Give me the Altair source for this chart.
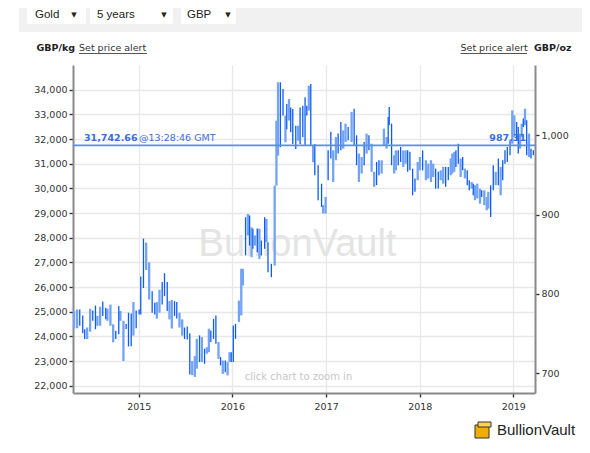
import altair as alt
import pandas as pd

# ---------------- data ----------------
# bar time (fractional year), high / low (GBP per kg), kind: D = dark bar, L = light bar
year_a = [2014.309, 2014.341, 2014.369, 2014.401, 2014.422, 2014.448, 2014.480, 2014.508, 2014.537, 2014.558,
          2014.587, 2014.615, 2014.647, 2014.665, 2014.697, 2014.726, 2014.754, 2014.786, 2014.804, 2014.836,
          2014.865, 2014.890, 2014.919, 2014.943, 2014.972, 2015.004, 2015.021, 2015.050, 2015.079, 2015.111,
          2015.143, 2015.171, 2015.193, 2015.221, 2015.250, 2015.275, 2015.304, 2015.328, 2015.353, 2015.382,
          2015.406, 2015.435, 2015.464, 2015.489, 2015.518, 2015.545, 2015.571, 2015.599]
high_a = [25030, 25090, 25090, 24850, 24290, 24360, 25120, 25050, 25250, 24830,
          25200, 25410, 25160, 25120, 25290, 24490, 24230, 25230, 25030, 24630,
          24500, 24960, 24930, 25390, 25050, 25090, 26430, 27960, 27800, 27000,
          25830, 25360, 25390, 25890, 26200, 26560, 26200, 25430, 25470, 25430,
          25390, 24960, 24690, 24360, 24400, 24130, 23000, 23200]
low_a = [24320, 24330, 24430, 24130, 23890, 23890, 24190, 24630, 24290, 24430,
         24430, 24830, 24690, 24630, 24430, 23760, 23890, 24090, 24630, 23000,
         24300, 23590, 23600, 24030, 24330, 24890, 24890, 25960, 26690, 25490,
         24960, 24890, 24720, 24960, 25290, 25630, 25030, 24690, 24320, 24830,
         24720, 24360, 24030, 23890, 23870, 22450, 22430, 22360]
kind_a = "LLDDDLLDDLLDDLLLDDLLDDDLDDDDLLDDLLDDDLLDDLLDDDLL"

year_b = [2015.620, 2015.649, 2015.674, 2015.703, 2015.727, 2015.749, 2015.770, 2015.799, 2015.824, 2015.852,
          2015.874, 2015.898, 2015.924, 2015.949, 2015.970, 2015.988, 2016.010, 2016.034, 2016.070, 2016.095,
          2016.112, 2016.141, 2016.166, 2016.184, 2016.205, 2016.219, 2016.241, 2016.266, 2016.288, 2016.309,
          2016.344, 2016.363, 2016.380, 2016.416, 2016.451, 2016.470, 2016.487, 2016.512, 2016.540, 2016.566,
          2016.580, 2016.604, 2016.622, 2016.644, 2016.676, 2016.701, 2016.722, 2016.751, 2016.775, 2016.794,
          2016.815, 2016.836, 2016.861]
high_b = [23900, 24040, 23970, 23500, 23560, 24310, 24240, 24710, 24850, 23770,
          23160, 23020, 23020, 22960, 23360, 23360, 24440, 24510, 25450, 26740,
          26740, 28830, 28960, 28900, 28420, 28360, 28090, 28360, 28360, 27890,
          28830, 28760, 27820, 26940, 30110, 32740, 34300, 34300, 34030, 32950,
          33420, 33620, 33280, 33220, 32540, 32540, 33280, 33350, 33690, 33350,
          34160, 34230, 31730]
low_b = [22690, 22960, 22960, 22890, 23300, 23360, 23770, 23900, 23700, 23090,
         22820, 22480, 22550, 22420, 22960, 22960, 22960, 23900, 24580, 24850,
         26060, 27280, 28090, 27680, 27210, 27550, 27680, 27410, 27140, 27280,
         27550, 27820, 26600, 26400, 26870, 30110, 31330, 31670, 32950, 31870,
         32400, 32750, 32270, 31800, 31600, 31930, 31800, 32070, 31730, 32950,
         33150, 31730, 31060]
kind_b = "LDLDLLDDDLDLDLLDDDLLLDLDLDLDLDDLDDLLLDDLDLDDDLDDDDLDL"

year_c = [2016.879, 2016.914, 2016.951, 2016.968, 2016.994, 2017.021, 2017.050, 2017.075, 2017.104, 2017.128,
          2017.157, 2017.182, 2017.207, 2017.235, 2017.272, 2017.299, 2017.325, 2017.350, 2017.379, 2017.406,
          2017.432, 2017.457, 2017.486, 2017.513, 2017.539, 2017.564, 2017.593, 2017.617, 2017.646, 2017.663,
          2017.674, 2017.699, 2017.727, 2017.745, 2017.770, 2017.796, 2017.824, 2017.849, 2017.871, 2017.895,
          2017.924, 2017.949, 2017.978, 2018.002, 2018.031]
high_c = [31800, 30940, 30190, 29320, 29650, 31540, 32290, 31540, 32080, 32220,
          32690, 32350, 32620, 32490, 33100, 33230, 32150, 31410, 31270, 31880,
          32220, 32150, 31810, 30670, 31070, 31140, 31140, 32420, 32080, 32890,
          33300, 32620, 31340, 31540, 31540, 31680, 31540, 31540, 31540, 31480,
          30800, 30400, 31070, 31270, 31540]
low_c = [30530, 29520, 29250, 28980, 28980, 30330, 31210, 30260, 31140, 31410,
         31540, 31610, 31880, 31950, 31880, 31750, 30940, 30260, 30600, 30940,
         31410, 31540, 30670, 30060, 30130, 30530, 30600, 31750, 31610, 31810,
         32560, 30940, 30600, 30730, 30940, 31070, 30870, 31000, 30670, 30730,
         29720, 29860, 30330, 30730, 30730]
kind_c = "DDDLLDDLLDDLLDLDDLLDLDLLDDLLLDDDLLDDLLDDDDLLD"

year_d = [2018.066, 2018.091, 2018.120, 2018.144, 2018.170, 2018.198, 2018.224, 2018.251, 2018.277, 2018.305,
          2018.331, 2018.348, 2018.369, 2018.387, 2018.412, 2018.437, 2018.459, 2018.483, 2018.508, 2018.529,
          2018.555, 2018.572, 2018.590, 2018.615, 2018.644, 2018.662, 2018.690, 2018.716, 2018.733, 2018.758,
          2018.786, 2018.812, 2018.840, 2018.865, 2018.887, 2018.911, 2018.936, 2018.965, 2018.989, 2019.011,
          2019.036, 2019.053, 2019.072, 2019.090, 2019.107, 2019.125, 2019.143, 2019.168, 2019.189, 2019.214]
high_d = [31140, 31000, 31140, 31000, 30800, 30670, 30730, 30870, 30870, 30870,
          31210, 31410, 31480, 31540, 31810, 31210, 31270, 30800, 30730, 30330,
          30260, 30190, 30130, 30190, 29990, 29920, 29920, 29650, 29860, 30130,
          30940, 30670, 31210, 30870, 31140, 31540, 31680, 31950, 33160, 32960,
          32690, 32490, 32220, 32620, 32830, 33230, 32760, 32220, 31610, 31540]
low_d = [30330, 30400, 30260, 30460, 29990, 29990, 30330, 30190, 30060, 30330,
         30530, 30600, 30670, 30870, 31000, 30460, 30730, 30400, 30130, 29920,
         29990, 29720, 29520, 29590, 29380, 29650, 29320, 29110, 29180, 28840,
         29920, 30130, 30130, 29720, 30330, 31000, 31070, 31340, 31810, 32080,
         31950, 31410, 31610, 32080, 32490, 32560, 31340, 31270, 31210, 31340]
kind_d = "LLLLDDLLDDLLLDDLDLDDLDLLLDLLLDDLDLDDDDLLDDLLDLDLDD"

price_kg = 31742.66
price_oz = 987.31
price_time = "@13:28:46 GMT"
OZ_PER_KG = 32.1507466

y_ticks_kg = list(range(22000, 35000, 1000))
y_ticks_oz = [700, 800, 900, 1000]
x_tick_years = [2015, 2016, 2017, 2018, 2019]
y_domain_kg = [21705, 35000]
x_range_years = [2014.297, 2019.232]

menu_items = ["Gold", "5 years", "GBP"]

# ---------------- build tables ----------------
def fy_to_ts(fy):
    y = int(fy)
    start = pd.Timestamp(year=y, month=1, day=1)
    end = pd.Timestamp(year=y + 1, month=1, day=1)
    return start + (end - start) * (fy - y)


def to_dt(ts):
    return alt.DateTime(year=ts.year, month=ts.month, date=ts.day, hours=ts.hour)


years = year_a + year_b + year_c + year_d
highs = high_a + high_b + high_c + high_d
lows = low_a + low_b + low_c + low_d
kinds = list(kind_a + kind_b + kind_c + kind_d)
assert len(years) == len(highs) == len(lows) == len(kinds)

bars_df = pd.DataFrame({
    "date": [fy_to_ts(v) for v in years],
    "high": highs,
    "low": lows,
    "kind": ["rise" if k == "D" else "fall" for k in kinds],
})
bars_df = bars_df.sort_values("kind")  # light bars first, dark bars on top

price_df = pd.DataFrame({"price": [price_kg], "oz": [price_oz],
                         "label": [f"{price_kg:,.2f}"], "time": [price_time],
                         "oz_label": [f"{price_oz:,.2f}"]})

DARK = "#0d5cf2"
LIGHT = "#72a3f5"
PRICE = "#5a8fe8"
PRICE_TXT = "#3a6edb"
FONT = "DejaVu Sans"
SANS = "Liberation Sans"

kg_scale = alt.Scale(domain=y_domain_kg, nice=False, zero=False)
kg_axis = alt.Axis(values=y_ticks_kg, format=",.0f", title=None, grid=True, labelPadding=2)
oz_scale = alt.Scale(domain=[v / OZ_PER_KG for v in y_domain_kg], nice=False, zero=False)
oz_axis = alt.Axis(orient="right", values=y_ticks_oz, format=",.0f", title=None, grid=False, labelPadding=2)
x_scale = alt.Scale(domain=[to_dt(fy_to_ts(v)) for v in x_range_years])
x_axis = alt.Axis(values=[alt.DateTime(year=y, month=1, date=1) for y in x_tick_years],
                  format="%Y", title=None, grid=True, labelPadding=4)

one = pd.DataFrame({"t": [""]})


def label(text, x, y, size=9.5, weight="normal", color="#222", align="left", font=FONT, baseline="middle"):
    return alt.Chart(pd.DataFrame({"t": [text]})).mark_text(
        align=align, baseline=baseline, fontSize=size, fontWeight=weight, color=color, font=font
    ).encode(text="t:N", x=alt.value(x), y=alt.value(y))


def box(x1, x2, y1, y2, color, stroke=None, radius=0):
    kw = dict(color=color, cornerRadius=radius)
    if stroke:
        kw.update(stroke=stroke, strokeWidth=1)
    return alt.Chart(one).mark_rect(**kw).encode(
        x=alt.value(x1), x2=alt.value(x2), y=alt.value(y1), y2=alt.value(y2))


def hline(x1, x2, y, color, width=1):
    return alt.Chart(one).mark_rule(color=color, strokeWidth=width).encode(
        x=alt.value(x1), x2=alt.value(x2), y=alt.value(y))


# ---------------- decoration ----------------
header = [
    box(-54, 520, -60, -33, "#f1f1f1"),
    box(-46, 13, -60, -41, "#ffffff", radius=2),
    box(17, 100, -60, -41, "#ffffff", radius=2),
    box(108, 163, -60, -41, "#ffffff", radius=2),
    label(menu_items[0], -38, -50, size=11.5, font=SANS),
    label(menu_items[1], 24, -50, size=11.5, font=SANS),
    label(menu_items[2], 114, -50, size=11.5, font=SANS),
    label("▼", 1, -50, size=7, align="center"),
    label("▼", 91, -50, size=7, align="center"),
    label("▼", 155, -50, size=7, align="center"),
    label("GBP/kg", -36.5, -17, weight="bold"),
    label("Set price alert", 6, -17, color="#333"),
    hline(6, 74, -11.5, "#555"),
    label("Set price alert", 387.5, -17, color="#333"),
    hline(387.5, 454, -11.5, "#555"),
    label("GBP/oz", 461, -17, weight="bold"),
]

watermark = [
    label("BullionVault", 224.5, 191, size=38, color="#e4e4e4", align="center", font=SANS,
          baseline="alphabetic"),
    label("click chart to zoom in", 225.5, 312, size=10, color="#c6c6c6", align="center"),
]

logo = [
    box(402, 416, 360, 373, "#f2ae00", stroke="#333"),
    box(405, 418, 357, 362, "#ffd24d", stroke="#333"),
    label("BullionVault", 424, 365, size=15, color="#222", font=SANS),
]

# ---------------- data layers ----------------
bars = alt.Chart(bars_df).mark_rule().encode(
    x=alt.X("date:T", scale=x_scale, axis=x_axis),
    y=alt.Y("low:Q", scale=kg_scale, axis=kg_axis),
    y2="high:Q",
    color=alt.Color("kind:N", scale=alt.Scale(domain=["rise", "fall"], range=[DARK, LIGHT]), legend=None),
    strokeWidth=alt.StrokeWidth("kind:N", scale=alt.Scale(domain=["rise", "fall"], range=[1.3, 2.3]),
                                legend=None),
)

price_line = alt.Chart(price_df).mark_rule(color=PRICE, strokeWidth=1.8).encode(
    y=alt.Y("price:Q", scale=kg_scale, axis=kg_axis))

price_val = alt.Chart(price_df).mark_text(
    align="left", baseline="middle", dy=-7, fontSize=9.5, fontWeight="bold", color=PRICE_TXT, font=FONT
).encode(text="label:N", x=alt.value(11), y=alt.Y("price:Q", scale=kg_scale, axis=kg_axis))

price_time_txt = alt.Chart(price_df).mark_text(
    align="left", baseline="middle", dy=-7, fontSize=9.5, color=PRICE_TXT, font=FONT
).encode(text="time:N", x=alt.value(66), y=alt.Y("price:Q", scale=kg_scale, axis=kg_axis))

oz_txt = alt.Chart(price_df).mark_text(
    align="right", baseline="middle", dy=-7, fontSize=9.5, fontWeight="bold", color=PRICE_TXT, font=FONT
).encode(text="oz_label:N", x=alt.value(453), y=alt.Y("oz:Q", scale=oz_scale, axis=oz_axis))

inner = alt.layer(*header, *watermark, bars, price_line, price_val, price_time_txt, *logo)

chart = alt.layer(inner, oz_txt).resolve_scale(y="independent").properties(
    width=462,
    height=328,
    padding={"left": 65, "top": 57, "right": 47, "bottom": 46},
    autosize=alt.AutoSizeParams(type="none"),
    background="white",
).configure_view(stroke=None).configure_axis(
    labelFont=FONT,
    labelFontSize=9.5,
    labelColor="#333",
    tickColor="#333",
    tickSize=4,
    tickWidth=1.4,
    domainColor="#8a8a8a",
    domainWidth=2,
    gridColor="#e8e8e8",
    gridWidth=1.3,
)

chart.save("out.html", embed_options={"renderer": "svg", "actions": False})
